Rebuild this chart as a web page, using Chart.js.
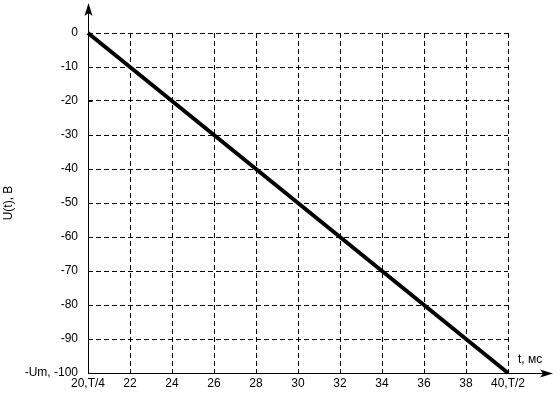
<!DOCTYPE html>
<html lang="ru">
<head>
    <meta charset="UTF-8">
    <title>U(t)</title>
    <style>
        body {
            margin: 0;
            padding: 0;
            background-color: #fff;
        }

        canvas {
            display: block;
        }
    </style>
    <script src="https://cdn.jsdelivr.net/npm/chart.js@4"></script>
</head>

<body>
    <canvas id="uChart" width="560" height="420"></canvas>
    <script>
        // data
        const tValues = [20, 40];
        const uValues = [0, -100];

        const xTickValues = [20, 22, 24, 26, 28, 30, 32, 34, 36, 38, 40];
        const xTickLabels = ["20,T/4", "22", "24", "26", "28", "30", "32", "34", "36", "38", "40,T/2"];
        const yTickValues = [0, -10, -20, -30, -40, -50, -60, -70, -80, -90, -100];
        const yTickLabels = ["0", "-10", "-20", "-30", "-40", "-50", "-60", "-70", "-80", "-90", "-Um, -100"];

        const fontFamily = '"Liberation Sans", Arial, sans-serif';

        // solid axes with arrows, small ticks and the t label
        const axesArrows = {
            id: "axesArrows",
            afterDraw(chart) {
                const { ctx, chartArea, scales: { x, y } } = chart;
                const x0 = Math.round(chartArea.left) + 0.5;
                const y0 = Math.round(chartArea.bottom) + 0.5;
                const xEnd = chartArea.right + 45;
                const yEnd = chartArea.top - 30;

                ctx.save();
                ctx.strokeStyle = "#000";
                ctx.fillStyle = "#000";
                ctx.lineWidth = 1;
                ctx.beginPath();
                ctx.moveTo(x0, y0);
                ctx.lineTo(x0, yEnd + 8);
                ctx.moveTo(x0, y0);
                ctx.lineTo(xEnd - 8, y0);
                x.ticks.forEach(t => {
                    const px = Math.round(x.getPixelForValue(t.value)) + 0.5;
                    ctx.moveTo(px, y0);
                    ctx.lineTo(px, y0 - 4);
                });
                y.ticks.forEach(t => {
                    const py = Math.round(y.getPixelForValue(t.value)) + 0.5;
                    ctx.moveTo(x0, py);
                    ctx.lineTo(x0 + 4, py);
                });
                ctx.stroke();

                ctx.beginPath();
                ctx.moveTo(x0, yEnd);
                ctx.lineTo(x0 - 4, yEnd + 13);
                ctx.lineTo(x0, yEnd + 10);
                ctx.lineTo(x0 + 4, yEnd + 13);
                ctx.closePath();
                ctx.fill();

                ctx.beginPath();
                ctx.moveTo(xEnd, y0);
                ctx.lineTo(xEnd - 13, y0 - 4);
                ctx.lineTo(xEnd - 10, y0);
                ctx.lineTo(xEnd - 13, y0 + 4);
                ctx.closePath();
                ctx.fill();

                ctx.font = "12px " + fontFamily;
                ctx.textAlign = "left";
                ctx.textBaseline = "alphabetic";
                ctx.fillText("t, мс", chartArea.right + 10, y0 - 11);
                ctx.restore();
            }
        };

        const points = tValues.map((t, i) => ({ x: t, y: uValues[i] }));

        new Chart(document.getElementById("uChart"), {
            type: "line",
            data: {
                datasets: [
                    {
                        data: points,
                        borderColor: "#000",
                        borderWidth: 4,
                        pointRadius: 0,
                        tension: 0,
                        clip: 8,
                    },
                ],
            },
            options: {
                responsive: false,
                animation: false,
                devicePixelRatio: 1,
                layout: {
                    padding: { top: 33, right: 52, bottom: 0, left: 0 },
                },
                plugins: {
                    legend: { display: false },
                    tooltip: { enabled: false },
                },
                scales: {
                    x: {
                        type: "linear",
                        min: 20,
                        max: 40,
                        afterBuildTicks: scale => {
                            scale.ticks = xTickValues.map(v => ({ value: v }));
                        },
                        afterFit: scale => {
                            scale.height = 47;
                        },
                        ticks: {
                            autoSkip: false,
                            maxRotation: 0,
                            padding: 3,
                            color: "#000",
                            font: { family: fontFamily, size: 12 },
                            callback: value => {
                                const i = xTickValues.indexOf(value);
                                return i >= 0 ? xTickLabels[i] : "";
                            },
                        },
                        grid: {
                            color: "#000",
                            lineWidth: 1,
                            drawTicks: false,
                        },
                        border: { display: false, dash: [5, 3] },
                    },
                    y: {
                        type: "linear",
                        min: -100,
                        max: 0,
                        afterBuildTicks: scale => {
                            scale.ticks = yTickValues.map(v => ({ value: v }));
                        },
                        afterFit: scale => {
                            scale.width = 88;
                        },
                        ticks: {
                            autoSkip: false,
                            padding: 10,
                            color: "#000",
                            font: { family: fontFamily, size: 12 },
                            callback: value => {
                                const i = yTickValues.indexOf(value);
                                return i >= 0 ? yTickLabels[i] : "";
                            },
                        },
                        grid: {
                            color: "#000",
                            lineWidth: 1,
                            drawTicks: false,
                        },
                        border: { display: false, dash: [5, 3] },
                        title: {
                            display: true,
                            text: "U(t), В",
                            color: "#000",
                            font: { family: fontFamily, size: 12 },
                            padding: { top: 1, bottom: 0 },
                        },
                    },
                },
            },
            plugins: [axesArrows],
        });
    </script>
</body>

</html>
